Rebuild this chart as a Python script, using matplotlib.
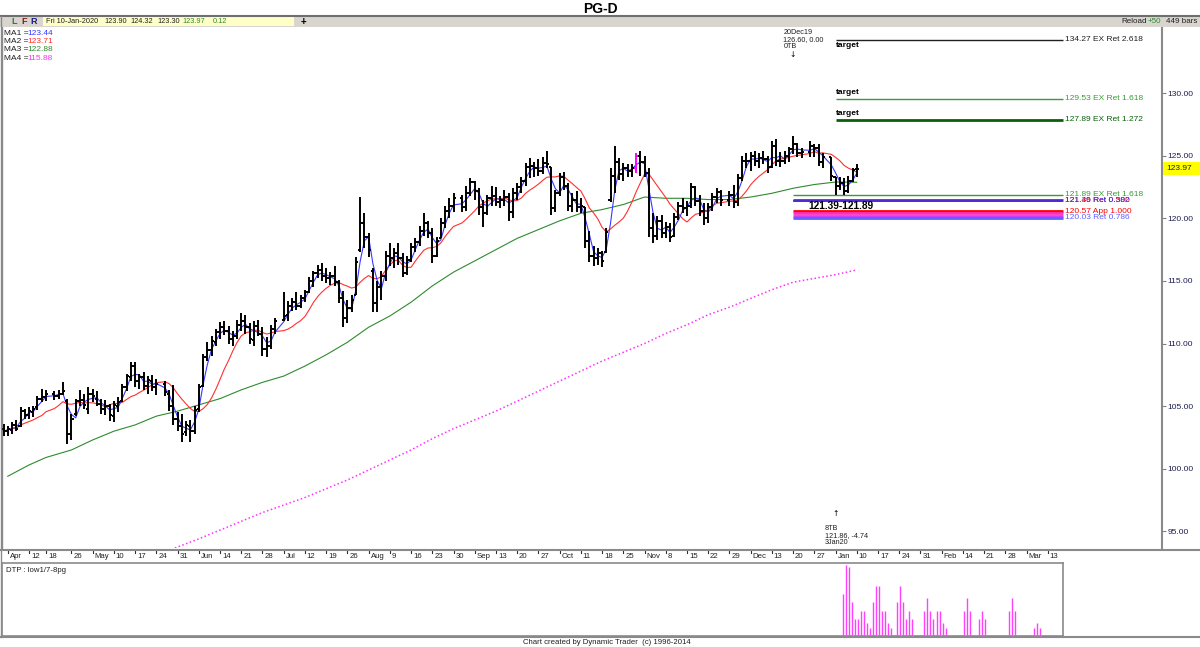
import numpy as np
import pandas as pd
import matplotlib
matplotlib.use("Agg")
import matplotlib.pyplot as plt
from matplotlib.collections import LineCollection
from matplotlib.lines import Line2D
from matplotlib.patches import Rectangle
from matplotlib.transforms import blended_transform_factory

plt.rcParams["font.family"] = ["Liberation Sans", "DejaVu Sans"]

W, H = 1200, 647

# ---------------- data ----------------
ticker = "PG-D"
first_bar = "2019-04-04"

opens = [
    103.2, 103.0, 103.1, 103.5, 103.4, 104.6, 104.3, 104.5, 104.9, 105.6,
    105.7, 106.0, 105.8, 106.0, 105.4, 102.8, 104.4, 105.4, 105.5, 104.8,
    106.0, 105.6, 105.2, 104.8, 105.0, 104.2, 105.0, 105.4, 106.5, 107.3,
    108.2, 107.0, 107.3, 106.6, 107.0, 106.5, 106.8, 106.0, 105.0, 104.0,
    103.4, 102.9, 103.4, 103.0, 104.8, 106.6, 108.9, 109.5, 110.1, 110.9,
    111.3, 111.0, 110.4, 110.6, 111.5, 111.8, 111.3, 110.3, 111.4, 110.8,
    109.6, 109.8, 111.2, 111.9, 112.3, 113.0, 113.3, 113.0, 113.6, 114.1,
    115.0, 115.6, 115.9, 115.4, 115.2, 115.4, 114.9, 113.6, 112.0, 112.8,
    113.9, 117.5, 119.6, 118.5, 115.8, 113.2, 114.5, 115.4, 117.0, 116.8,
    117.2, 116.8, 115.6, 116.7, 117.7, 118.1, 119.0, 119.6, 118.8, 117.0,
    118.4, 119.6, 120.6, 121.0, 121.6, 120.9, 122.0, 122.9, 122.2, 120.9,
    120.4, 121.6, 121.8, 121.3, 121.5, 121.7, 120.5, 122.0, 122.5, 123.0,
    124.1, 124.2, 124.0, 123.8, 124.4, 124.1, 120.8, 122.0, 123.3, 122.6,
    121.0, 121.5, 120.9, 120.9, 118.2, 117.0, 116.8, 117.2, 117.3, 121.5,
    123.4, 124.5, 123.5, 124.0, 123.8, 124.0, 125.0, 124.5, 123.6, 119.2,
    118.6, 119.8, 118.8, 119.3, 118.6, 120.1, 121.0, 120.8, 121.0, 122.5,
    121.4, 120.6, 120.0, 120.9, 121.7, 122.1, 121.5, 121.9, 121.3, 123.2,
    124.6, 124.6, 125.0, 124.6, 124.8, 124.7, 124.1, 125.8, 124.6, 124.6,
    125.0, 125.5, 125.9, 125.2, 125.3, 125.8, 125.6, 124.5, 124.9, 123.3,
    122.6, 122.8, 122.2, 123.0, 123.90,
]
highs = [
    103.6, 103.4, 103.7, 103.9, 104.9, 104.8, 104.9, 105.0, 105.8, 106.4,
    106.3, 106.2, 106.3, 106.9, 105.6, 104.4, 105.6, 106.3, 106.0, 106.5,
    106.4, 106.2, 105.6, 105.5, 105.2, 105.4, 105.7, 106.8, 107.6, 108.5,
    108.5, 107.6, 107.7, 107.4, 107.5, 107.2, 107.0, 106.3, 106.7, 104.5,
    104.4, 103.8, 103.9, 105.0, 106.8, 109.2, 110.1, 110.6, 111.2, 111.7,
    111.8, 111.4, 111.0, 111.9, 112.4, 112.3, 111.6, 111.8, 111.9, 111.3,
    110.5, 111.5, 112.0, 114.1, 113.4, 113.6, 114.1, 113.9, 114.3, 115.3,
    115.8, 116.3, 116.4, 116.0, 115.7, 116.2, 115.1, 114.2, 113.5, 113.9,
    116.9, 121.7, 120.4, 118.8, 116.0, 115.0, 115.8, 117.4, 118.0, 117.6,
    118.0, 117.2, 117.0, 118.0, 118.4, 119.4, 120.4, 119.8, 119.2, 118.5,
    120.0, 121.0, 121.6, 122.0, 121.9, 122.6, 123.2, 123.0, 122.4, 121.5,
    121.9, 122.6, 122.5, 121.8, 122.3, 122.0, 122.4, 122.8, 123.3, 124.4,
    124.8, 124.5, 124.7, 124.9, 125.4, 124.1, 122.3, 123.6, 123.7, 122.8,
    122.0, 122.2, 121.6, 120.9, 119.0, 117.8, 117.6, 117.4, 119.2, 124.0,
    125.8, 124.8, 124.4, 124.3, 124.3, 125.2, 125.4, 125.0, 124.0, 120.4,
    120.2, 120.3, 119.7, 119.6, 120.4, 121.3, 121.6, 121.4, 122.8, 122.6,
    121.9, 121.2, 121.2, 122.0, 122.4, 122.3, 122.2, 122.7, 123.5, 125.0,
    125.2, 125.3, 125.4, 125.2, 125.4, 125.0, 126.2, 126.3, 125.3, 125.4,
    125.7, 126.6, 126.0, 125.6, 126.2, 125.9, 125.9, 125.2, 124.9, 123.3,
    123.3, 123.2, 123.4, 124.0, 124.32,
]
lows = [
    102.6, 102.6, 102.8, 103.0, 103.3, 104.0, 104.0, 104.1, 104.7, 105.3,
    105.4, 105.5, 105.6, 105.9, 102.0, 102.3, 104.2, 105.0, 104.8, 104.4,
    105.3, 105.0, 104.4, 104.3, 103.8, 103.7, 104.5, 105.3, 106.2, 107.0,
    106.5, 106.4, 106.3, 106.0, 106.2, 105.9, 105.8, 104.6, 103.5, 103.0,
    102.1, 102.6, 102.1, 102.8, 104.5, 106.5, 108.6, 109.0, 109.8, 110.4,
    110.7, 110.0, 109.8, 110.4, 111.0, 110.8, 110.0, 109.8, 110.6, 109.0,
    108.9, 109.6, 110.8, 111.8, 111.8, 112.6, 112.7, 112.8, 113.3, 114.0,
    114.5, 115.2, 115.0, 114.8, 114.7, 114.6, 113.2, 111.3, 111.6, 112.5,
    113.9, 117.3, 117.6, 116.9, 112.5, 112.5, 113.5, 115.0, 116.2, 116.0,
    116.3, 115.3, 115.5, 116.5, 117.3, 117.8, 118.6, 118.4, 116.4, 116.9,
    118.4, 119.2, 120.0, 120.5, 120.5, 120.6, 121.8, 121.5, 120.3, 119.3,
    120.3, 121.0, 121.0, 120.8, 121.0, 119.8, 120.0, 121.5, 122.0, 122.6,
    123.2, 123.3, 123.4, 123.5, 124.0, 120.3, 120.5, 121.8, 122.3, 120.6,
    120.5, 120.5, 120.4, 117.6, 116.5, 116.2, 116.3, 116.1, 117.2, 121.3,
    122.0, 123.1, 123.0, 123.3, 123.3, 123.6, 123.4, 123.3, 118.5, 118.0,
    118.3, 118.4, 118.4, 118.1, 118.5, 119.9, 120.4, 120.2, 120.8, 121.0,
    120.2, 119.5, 119.6, 120.6, 121.2, 121.0, 121.0, 120.8, 121.0, 123.0,
    124.0, 123.8, 124.2, 124.0, 124.3, 123.6, 124.0, 124.2, 124.1, 124.3,
    124.5, 125.1, 124.9, 124.8, 124.9, 124.9, 124.2, 124.0, 123.0, 121.86,
    122.3, 121.9, 122.0, 122.9, 123.30,
]
closes = [
    103.0, 103.2, 103.5, 103.2, 104.6, 104.3, 104.6, 104.8, 105.6, 105.7,
    106.0, 105.8, 106.0, 106.2, 102.8, 104.0, 105.4, 105.5, 105.1, 106.0,
    105.8, 105.2, 104.8, 105.0, 104.3, 105.1, 105.3, 106.5, 107.4, 108.2,
    107.0, 107.3, 106.6, 107.1, 106.5, 106.8, 106.1, 105.0, 104.0, 103.4,
    102.8, 103.5, 103.0, 104.7, 106.5, 108.9, 109.5, 110.2, 110.9, 111.3,
    111.0, 110.4, 110.6, 111.5, 111.8, 111.3, 110.4, 111.4, 110.8, 109.6,
    109.8, 111.2, 111.8, 112.2, 113.0, 113.3, 113.0, 113.6, 114.1, 115.0,
    115.6, 115.9, 115.4, 115.2, 115.4, 114.9, 113.6, 112.0, 112.8, 113.5,
    116.5, 119.6, 118.5, 117.5, 113.2, 114.5, 115.4, 117.0, 116.8, 117.2,
    116.8, 115.6, 116.7, 117.7, 118.1, 119.0, 119.6, 118.8, 117.0, 118.2,
    119.6, 120.6, 121.0, 121.6, 120.9, 122.0, 122.9, 122.2, 120.9, 120.4,
    121.6, 121.8, 121.3, 121.5, 121.7, 120.5, 122.0, 122.5, 123.0, 124.1,
    124.2, 124.0, 123.8, 124.4, 124.3, 120.8, 122.0, 123.3, 122.6, 121.0,
    121.5, 120.9, 121.0, 118.2, 117.0, 116.8, 117.2, 116.6, 118.9, 123.4,
    124.5, 123.5, 124.0, 123.8, 124.0, 125.0, 124.5, 123.6, 119.2, 118.6,
    119.8, 118.8, 119.3, 118.5, 120.1, 121.0, 120.8, 121.0, 122.5, 121.4,
    120.6, 120.0, 120.9, 121.7, 122.1, 121.5, 121.9, 121.3, 123.2, 124.6,
    124.6, 125.0, 124.6, 124.8, 124.7, 124.1, 125.8, 124.6, 124.6, 125.0,
    125.5, 125.9, 125.2, 125.3, 125.8, 125.6, 124.5, 124.9, 123.4, 122.6,
    122.8, 122.2, 123.0, 123.85, 123.97,
]
highlight_bar = "2019-10-30"

# MA3 / MA4 (last trading day of each week)
ma_week_first = "2019-04-05"
ma3_weekly = [
    99.4, 100.3, 100.9, 101.5, 102.3, 103.0, 103.5, 104.2, 104.6, 105.1,
    105.6, 106.3, 106.9, 107.4, 108.2, 109.1, 110.1, 111.3, 112.2, 113.3,
    114.6, 115.7, 116.6, 117.5, 118.4, 119.1, 119.8, 120.4, 120.7, 121.1,
    121.7, 121.6, 121.6, 121.5, 121.5, 121.7, 122.0, 122.4, 122.7, 122.9,
    122.88,
]
ma4_weekly = [
    np.nan, np.nan, np.nan, np.nan, np.nan, np.nan, np.nan, 93.1, 93.75, 94.4,
    95.1, 95.8, 96.5, 97.1, 97.7, 98.4, 99.1, 99.9, 100.7, 101.5,
    102.4, 103.2, 103.9, 104.6, 105.4, 106.2, 107.0, 107.8, 108.6, 109.3,
    110.0, 110.8, 111.5, 112.3, 112.9, 113.6, 114.3, 114.9, 115.2, 115.5,
    115.88,
]
ma_names = ["MA1", "MA2", "MA3", "MA4"]
ma_last = [123.44, 123.71, 122.88, 115.88]
ma_colors = ["#3838ff", "#ff3030", "#2e8b2e", "#ff30ff"]

# projection levels on the right
fib_prices = [134.27, 129.53, 127.89, 121.89, 121.46, 121.39, 120.57, 120.40, 120.22, 120.03]
fib_labels = ["134.27 EX Ret 2.618", "129.53 EX Ret 1.618", "127.89 EX Ret 1.272",
              "121.89 EX Ret 1.618", "121.46 Ret 0.500", "121.39 Ret 0.382",
              "120.57 App 1.000", "", "", "120.03 Ret 0.786"]
fib_colors = ["#202020", "#3a9a3a", "#0a600a", "#3a9a3a", "#ff0000", "#3030ff",
              "#ff0000", "#ff30c0", "#c040ff", "#6060ff"]
fib_widths = [1.0, 1.0, 2.0, 1.0, 2.0, 1.2, 2.0, 2.0, 2.0, 2.0]
fib_from = ["2020-01-03"] * 3 + ["2019-12-20"] * 7
target_levels = [134.27, 129.53, 127.89]
zone_text = "121.39-121.89"

swing_high_date = "2019-12-20"
swing_low_date = "2020-01-03"

# DTP time bands (calendar days)
dtp_dates = [
    "2020-01-06", "2020-01-07", "2020-01-08", "2020-01-09", "2020-01-10", "2020-01-11",
    "2020-01-12", "2020-01-13", "2020-01-14", "2020-01-15", "2020-01-16", "2020-01-17",
    "2020-01-18", "2020-01-19", "2020-01-20", "2020-01-21", "2020-01-22",
    "2020-01-24", "2020-01-25", "2020-01-26", "2020-01-27", "2020-01-28", "2020-01-29",
    "2020-02-02", "2020-02-03", "2020-02-04", "2020-02-05", "2020-02-06", "2020-02-07",
    "2020-02-08", "2020-02-09",
    "2020-02-15", "2020-02-16", "2020-02-17",
    "2020-02-20", "2020-02-21", "2020-02-22",
    "2020-03-01", "2020-03-02", "2020-03-03",
    "2020-03-09", "2020-03-10", "2020-03-11",
]
dtp_vals = [
    10, 17, 16.5, 8, 4, 4, 6, 6, 3, 2, 8, 12, 12, 6, 6, 3, 2,
    8, 12, 8, 4, 6, 4,
    6, 9, 6, 4, 6, 6, 3, 2,
    6, 9, 6,
    4, 6, 4,
    6, 9, 6,
    2, 3, 2,
]

# ---------------- calendar ----------------
holidays = pd.to_datetime(["2019-04-19", "2019-05-27", "2019-07-04", "2019-09-02",
                           "2019-11-28", "2019-12-25", "2020-01-01", "2020-01-20",
                           "2020-02-17"])
slots = pd.bdate_range("2019-04-01", "2020-04-30")      # one slot per weekday
trade_days = slots[~slots.isin(holidays)]
bar_dates = trade_days[trade_days >= first_bar][:len(closes)]
bar_x = slots.get_indexer(bar_dates).astype(float)

week_last = pd.Series(trade_days, index=trade_days).groupby(trade_days.to_period("W-FRI")).max()
week_last = pd.DatetimeIndex(week_last.values)
ma_weeks = week_last[week_last >= ma_week_first][:len(ma3_weekly)]
ma_x = slots.get_indexer(ma_weeks)

PX = 4.245                      # pixels per slot
X0 = 9 - 27 / PX                # slot at the left edge (x=2px)
X_MAIN = 9 + 1133 / PX          # right edge of price panel
X_DATE = 9 + 1034 / PX          # right edge of date strip / DTP panel


def fx(x):
    return x / W


def fy(y):
    return 1 - y / H


fig = plt.figure(figsize=(W / 100, H / 100), dpi=100)
fig.patch.set_facecolor("white")

# ---------------- main price panel ----------------
ax = fig.add_axes([fx(2), fy(548), (1162 - 2) / W, (548 - 27) / H])
ax.set_xlim(X0, X_MAIN)
ax.set_ylim(93.67, 135.28)
ax.set_xticks([])
ax.yaxis.tick_right()
ticks = np.arange(95, 131, 5)
ax.set_yticks(ticks)
ax.set_yticklabels([f"{t:.2f}" for t in ticks])
ax.tick_params(axis="y", length=3, width=0.8, color="#808080", labelsize=6,
               labelcolor="#1c1c50", pad=1)
for s in ["top", "bottom"]:
    ax.spines[s].set_visible(False)
ax.spines["right"].set_color("#8a8a8a")
ax.spines["right"].set_linewidth(1.5)
ax.spines["left"].set_color("#8a8a8a")
ax.spines["left"].set_linewidth(1.0)

# moving averages
cl = pd.Series(closes)
ma1 = cl.rolling(3, min_periods=1).mean()
ma2 = cl.rolling(10, min_periods=1).mean()
ax.plot(ma_x, ma4_weekly, color=ma_colors[3], lw=1.1, ls=(0, (1, 1.6)), zorder=2)
ax.plot(ma_x, ma3_weekly, color=ma_colors[2], lw=0.8, zorder=2)
ax.plot(bar_x, ma2, color=ma_colors[1], lw=0.8, zorder=2)
ax.plot(bar_x, ma1, color=ma_colors[0], lw=0.8, zorder=3)

# OHLC bars
hl = pd.Timestamp(highlight_bar)
segs, cols = [], []
for d, x, o, h, l, c in zip(bar_dates, bar_x, opens, highs, lows, closes):
    col = "#ff00ff" if d == hl else "black"
    segs += [[(x, l), (x, h)], [(x - 0.5, o), (x, o)], [(x, c), (x + 0.5, c)]]
    cols += [col] * 3
ax.add_collection(LineCollection(segs, colors=cols, linewidths=1.4, zorder=4))

# projection levels
for p, lab, col, lw, start in zip(fib_prices, fib_labels, fib_colors, fib_widths, fib_from):
    xs = slots.get_loc(pd.Timestamp(start))
    ax.hlines(p, xs, X_DATE, color=col, lw=lw, zorder=3)
    if lab:
        ax.text(X_DATE + 0.5, p, lab, color=col, fontsize=6, va="center", ha="left")
for p in target_levels:
    xs = slots.get_loc(pd.Timestamp(fib_from[0]))
    above = p != max(target_levels)
    ax.annotate("target", (xs, p), xytext=(0, 2 if above else -2), textcoords="offset points",
                va="bottom" if above else "top", ha="left", fontsize=6, fontweight="bold")
zx = (slots.get_loc(pd.Timestamp(swing_high_date)) + slots.get_loc(pd.Timestamp(swing_low_date))) / 2 + 6.3
ax.text(zx, (fib_prices[5] + fib_prices[6]) / 2, zone_text, fontsize=7.3, fontweight="bold",
        ha="center", va="center")

# swing annotations
bt = blended_transform_factory(ax.transData, ax.transAxes)
hi_i = list(bar_dates).index(pd.Timestamp(swing_high_date))
lo_i = list(bar_dates).index(pd.Timestamp(swing_low_date))
sh, sl = highs[hi_i], lows[lo_i]
ax.text(bar_x[hi_i] - 2.3, 0.997, f"20Dec19\n{sh:.2f}, 0.00\n0TB", transform=bt,
        fontsize=5.2, va="top", ha="left", linespacing=1.05, color="#202020")
ax.text(bar_x[hi_i], 0.955, "\u2193", transform=bt, fontsize=5.5, ha="center", va="top",
        family="DejaVu Sans")
ax.text(bar_x[lo_i] - 2.5, 0.003, f"8TB\n{sl:.2f}, {sl - sh:.2f}\n3Jan20", transform=bt,
        fontsize=5.2, va="bottom", ha="left", linespacing=1.05, color="#202020")
ax.text(bar_x[lo_i], 0.058, "\u2191", transform=bt, fontsize=5.5, ha="center", va="bottom",
        family="DejaVu Sans")

# last price box on the axis
last = closes[-1]
ly = fy(548) + (last - 93.67) / (135.28 - 93.67) * (548 - 27) / H
fig.patches.append(Rectangle((fx(1163), ly - 6.5 / H), 37 / W, 13 / H,
                             transform=fig.transFigure, facecolor="#ffff00", edgecolor="none"))
fig.text(fx(1166), ly, f"{last:.2f}", fontsize=6, va="center", ha="left", color="#202020")

# MA legend
for k, (n, v, c) in enumerate(zip(ma_names, ma_last, ma_colors)):
    fig.text(fx(4), fy(33.5 + 8.2 * k), f"{n} =", fontsize=6, va="center", color="#202020")
    fig.text(fx(27.5), fy(33.5 + 8.2 * k), f"{v:.2f}", fontsize=6, va="center", color=c)

# ---------------- date strip ----------------
axd = fig.add_axes([fx(2), fy(561), (1063 - 2) / W, (561 - 549) / H])
axd.set_xlim(X0, X_DATE)
axd.set_ylim(0, 1)
axd.axis("off")
wk = week_last[(week_last >= "2019-04-05") & (week_last <= "2020-03-13")]
prev_m = None
for d in wk:
    x = slots.get_loc(d)
    lab = d.strftime("%b") if d.month != prev_m else str(d.day)
    prev_m = d.month
    axd.plot([x, x], [1, 0.7], color="#303030", lw=0.8)
    axd.text(x + 0.45, 0.4, lab, fontsize=5.6, ha="left", va="center", color="#202020")

# ---------------- DTP panel ----------------
axb = fig.add_axes([fx(2), fy(636), (1063 - 2) / W, (636 - 563) / H])
axb.set_xlim(X0, X_DATE)
axb.set_ylim(0, 17.4)
axb.set_xticks([])
axb.set_yticks([])
for s in axb.spines.values():
    s.set_color("#8a8a8a")
    s.set_linewidth(1.2)
anchor = pd.Timestamp(swing_low_date)
dd = pd.to_datetime(dtp_dates)
dx = slots.get_loc(anchor) + (dd - anchor).days * 5 / 7 - 0.5
axb.vlines(dx, 0.15, dtp_vals, color="#ff40ff", lw=1.0)
axb.text(0.004, 0.9, "DTP : low1/7-8pg", transform=axb.transAxes, fontsize=5.6,
         va="center", ha="left", color="#202020")

# ---------------- frame, header, footer ----------------
fig.patches.append(Rectangle((0, fy(27)), 1, 11 / H, transform=fig.transFigure,
                             facecolor="#d8d5cf", edgecolor="none", zorder=0))
fig.patches.append(Rectangle((fx(43), fy(26)), (294 - 43) / W, 9 / H, transform=fig.transFigure,
                             facecolor="#ffffc8", edgecolor="none", zorder=1))
for y, c, lw in [(15.5, "#6e6e6e", 1.5), (549.5, "#8a8a8a", 1.5), (637, "#8a8a8a", 1.5)]:
    fig.add_artist(Line2D([0, 1], [fy(y), fy(y)], color=c, lw=lw))
fig.add_artist(Line2D([fx(1), fx(1)], [fy(15.5), fy(637)], color="#8a8a8a", lw=1.0))

fig.text(0.5, fy(9), ticker, fontsize=10, fontweight="bold", ha="center", va="center")
hy = fy(21.5)
for s, x, c in [("L", 11, "#2e7d32"), ("F", 21, "#8b1a1a"), ("R", 30, "#1a1a8b")]:
    fig.text(fx(x), hy, s, fontsize=6.5, fontweight="bold", color=c, va="center")
day = bar_dates[-1]
hdr = [(day.strftime("Fri %d-%b-%Y"), 46, "#202020"), (f"{opens[-1]:.2f}", 104, "#202020"),
       (f"{highs[-1]:.2f}", 130, "#202020"), (f"{lows[-1]:.2f}", 157, "#202020"),
       (f"{closes[-1]:.2f}", 182, "#2e8b2e"), (f"{closes[-1] - closes[-2]:.2f}", 213, "#2e8b2e")]
for s, x, c in hdr:
    fig.text(fx(x), hy, s, fontsize=5.3, color=c, va="center")
fig.text(fx(303), hy, "+", fontsize=7, fontweight="bold", ha="center", va="center")
fig.text(fx(1121), hy, "Reload", fontsize=5.8, va="center", color="#202020")
fig.text(fx(1148), hy, "+50", fontsize=5.8, va="center", color="#2e8b2e")
fig.text(fx(1166), hy, "449 bars", fontsize=5.8, va="center", color="#202020")

fig.text(fx(523), fy(642), "Chart created by Dynamic Trader  (c) 1996-2014", fontsize=5.6,
         va="center", ha="left", color="#202020")

fig.savefig("out.png", dpi=100)
